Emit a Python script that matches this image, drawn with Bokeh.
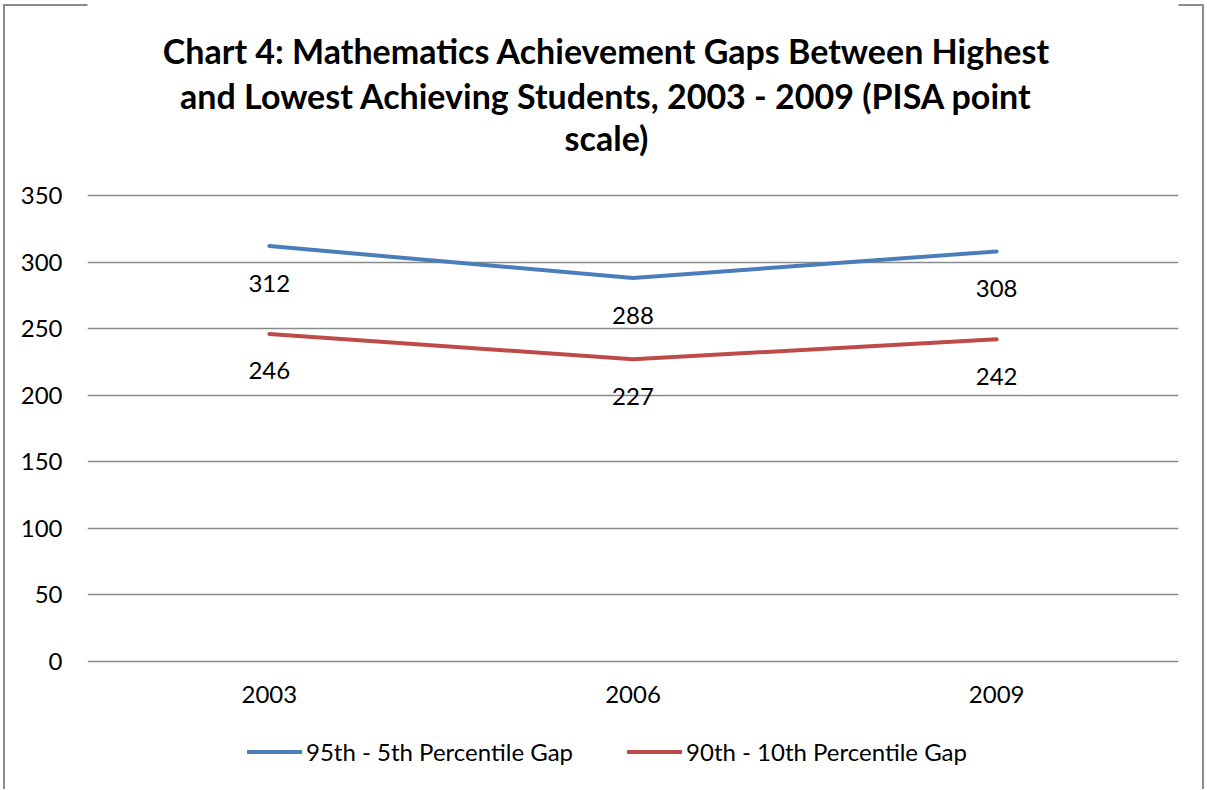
from bokeh.plotting import figure
from bokeh.models import (ColumnDataSource, Range1d, LabelSet, Label,
                          Legend, LegendItem, FixedTicker)
from bokeh.core.properties import value
from bokeh.embed import file_html
from bokeh.resources import INLINE

# ---- data ----
years = ["2003", "2006", "2009"]
gap_95_5 = [312, 288, 308]
gap_90_10 = [246, 227, 242]
series_names = ["95th - 5th Percentile Gap", "90th - 10th Percentile Gap"]
y_ticks = [0, 50, 100, 150, 200, 250, 300, 350]
title_lines = [
    "Chart 4: Mathematics Achievement Gaps Between Highest",
    "and Lowest Achieving Students, 2003 - 2009 (PISA point",
    "scale)",
]

FONT = "Lato"
BLUE = "#4A7EBB"
RED = "#BE4B48"
GRID = "#8a8a8a"
FRAME = "#8c8c8c"
TXT = "24px"

# ---- layout (pixels) ----
W, H = 1205, 789
LEFT, RIGHT = 87, 1178          # plot area horizontal extent
Y_TOP_PX, Y_ZERO_PX = 195, 661  # pixel rows of the top tick and of 0
ymax = y_ticks[-1]
px_per_unit = (Y_ZERO_PX - Y_TOP_PX) / ymax
y_start = -(H - Y_ZERO_PX) / px_per_unit
y_end = ymax + Y_TOP_PX / px_per_unit

xpos = list(range(len(years)))  # category slots

p = figure(
    width=W, height=H, title=None, x_axis_location=None,
    x_range=Range1d(-0.5, len(years) - 0.5),
    y_range=Range1d(y_start, y_end),
    output_backend="svg", toolbar_location=None,
    min_border_left=LEFT, min_border_right=W - RIGHT,
    min_border_top=0, min_border_bottom=0,
)
p.outline_line_color = None
p.background_fill_color = "white"
p.border_fill_alpha = 0
# thin grey chart-area frame (left, top, right), as in the source chart
p.styles = {"box-shadow": (
    "inset 3px 0 0 0 white, inset 0 4px 0 0 white, inset -1px 0 0 0 white, "
    f"inset 5px 0 0 0 {FRAME}, inset 0 6px 0 0 {FRAME}, inset -3px 0 0 0 {FRAME}"
)}

# grid
p.xgrid.grid_line_color = None
p.ygrid.grid_line_color = GRID
p.ygrid.grid_line_width = 1.5
p.ygrid.ticker = FixedTicker(ticks=y_ticks)
p.yaxis.ticker = FixedTicker(ticks=y_ticks)

# y axis
ax = p.yaxis
ax.axis_line_color = None
ax.major_tick_line_color = None
ax.minor_tick_line_color = None
ax.major_tick_out = 0
ax.major_tick_in = 0
ax.minor_tick_out = 0
ax.major_label_text_font = FONT
ax.major_label_text_font_size = TXT
ax.major_label_text_color = "black"
ax.major_label_standoff = 25

# category labels under the zero line
cat_src = ColumnDataSource(dict(x=xpos, y=[0] * len(years), lab=years))
p.add_layout(LabelSet(x="x", y="y", text="lab", source=cat_src, y_offset=-33,
                      text_align="center", text_baseline="middle",
                      text_font=value(FONT), text_font_size=TXT, text_color="black"))

src1 = ColumnDataSource(dict(x=xpos, y=gap_95_5, lab=[str(v) for v in gap_95_5]))
src2 = ColumnDataSource(dict(x=xpos, y=gap_90_10, lab=[str(v) for v in gap_90_10]))

r1 = p.line("x", "y", source=src1, line_color=BLUE, line_width=4, line_cap="round", line_join="round")
r2 = p.line("x", "y", source=src2, line_color=RED, line_width=4, line_cap="round", line_join="round")

for src in (src1, src2):
    p.add_layout(LabelSet(x="x", y="y", text="lab", source=src, y_offset=-37,
                          text_align="center", text_baseline="middle",
                          text_font=value(FONT), text_font_size=TXT, text_color="black"))

# title: three centred bold lines above the plot area
title_centers_px = [50, 95, 137]
title_center_x_px = 606
mid_slot = (len(years) - 1) / 2
for line, cy in zip(title_lines, title_centers_px):
    p.add_layout(Label(x=mid_slot, y=ymax, text=line,
                       x_offset=title_center_x_px - (LEFT + RIGHT) / 2,
                       y_offset=Y_TOP_PX - cy,
                       text_align="center", text_baseline="middle",
                       text_font=FONT, text_font_style="bold",
                       text_font_size="34px", text_color="black"))

# legend below the category labels
legend = Legend(items=[LegendItem(label=series_names[0], renderers=[r1]),
                       LegendItem(label=series_names[1], renderers=[r2])],
                orientation="horizontal", location=(247 - LEFT, 23),
                glyph_width=55, glyph_height=29, label_height=29,
                label_standoff=4, spacing=54,
                padding=0, margin=0, border_line_color=None,
                background_fill_alpha=0,
                label_text_font=FONT, label_text_font_size=TXT,
                label_text_color="black")
p.add_layout(legend, "center")

open("out.html", "w").write(file_html(p, INLINE))
